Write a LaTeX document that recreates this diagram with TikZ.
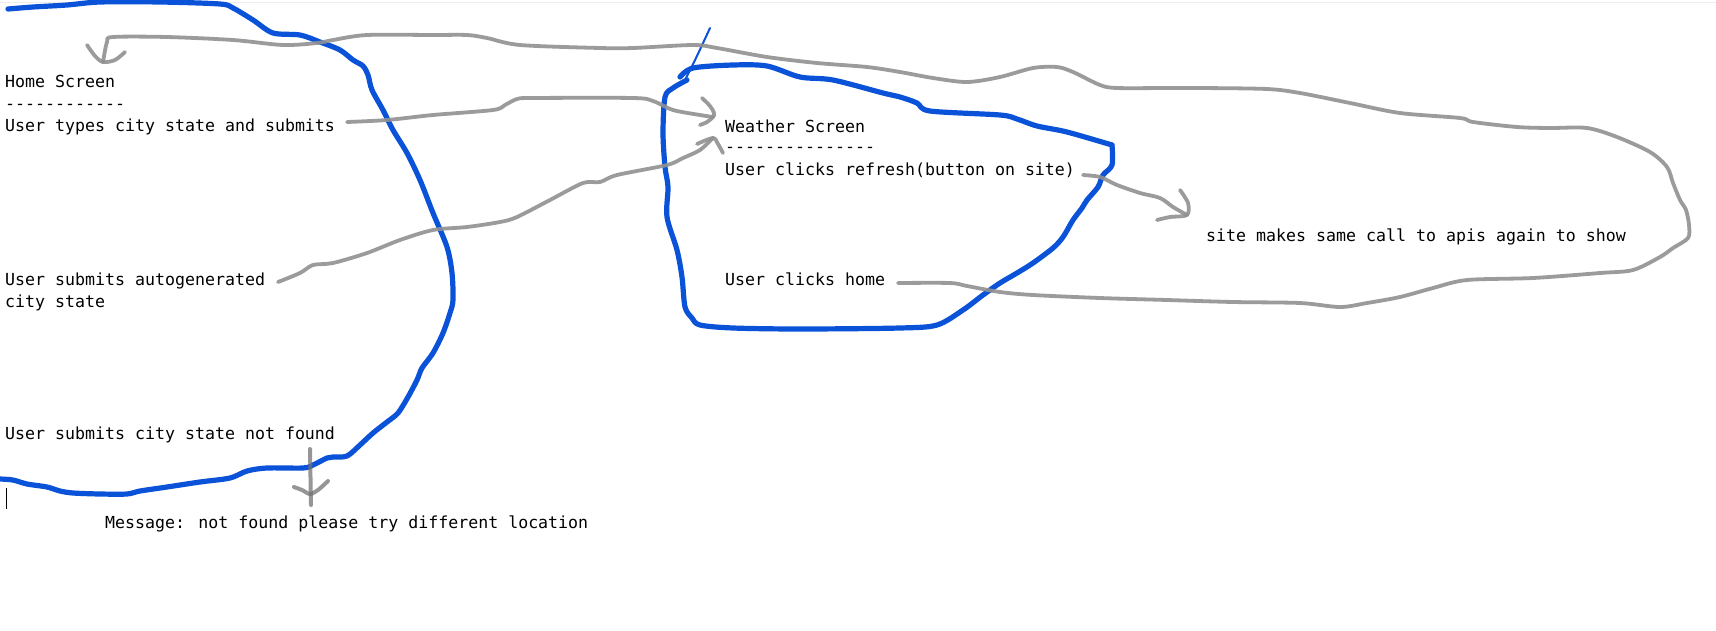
\documentclass[tikz,border=0pt]{standalone}
\usepackage{fontspec}
\newfontfamily\consfont{DejaVu Sans Mono}
\definecolor{inkblue}{RGB}{10,82,216}
\definecolor{pencil}{RGB}{145,145,145}
\definecolor{edgegray}{RGB}{236,236,236}
\begin{document}
\begin{tikzpicture}[x=1pt,y=-1pt,
  txt/.style={inner sep=0pt, anchor=base west, font=\consfont\fontsize{16.6}{22}\selectfont, text=black},
  blueink/.style={draw=inkblue, line width=5.2pt, line cap=round, line join=round},
  thinblue/.style={draw=inkblue, line width=2pt, line cap=round},
  pencilline/.style={draw=pencil, line width=3.8pt, line cap=round, line join=round, opacity=0.9},
  darkpencil/.style={draw=black!55, line width=4pt, line cap=round, line join=round, opacity=0.75}]
\useasboundingbox (0,0) rectangle (1716,630);
\fill[white] (0,0) rectangle (1716,630);
\draw[draw=edgegray, line width=1.5pt] (0,2.5) -- (1716,2.5);

% texts
\node[txt] (home) at (5,87) {Home Screen};
\node[txt] (homedash) at (5,109) {------------};
\node[txt] (types) at (5,131) {User types city state and submits};
\node[txt] (auto) at (5,285) {User submits autogenerated};
\node[txt] (auto2) at (5,307) {city state};
\node[txt] (notfound) at (5,439) {User submits city state not found};
\node[txt] (msg) at (105,528) {Message: not found please try different location};
\node[txt] (weather) at (725,132) {Weather Screen};
\node[txt] (weatherdash) at (725,152) {---------------};
\node[txt] (refresh) at (725,175) {User clicks refresh(button on site)};
\node[txt] (clickhome) at (725,285) {User clicks home};
\node[txt] (site) at (1206,241) {site makes same call to apis again to show};
\draw[black, line width=1pt] (6,488) -- (6,509);

% blue outlines
\draw[blueink] plot[smooth, tension=0.5] coordinates {(8,9) (33,7) (67,5) (100,2) (160,2) (220,4) (233,8) (253,20) (273,33) (300,35) (320,42) (340,50) (353,60) (363,66) (368,75) (372,90) (383,110) (393,130) (407,153) (420,180) (433,213) (447,247) (452,273) (453,300) (450,313) (443,333) (433,353) (422,368) (417,380) (408,397) (398,413) (387,422) (373,433) (360,445) (347,456) (333,457) (327,458) (313,465) (303,468) (267,468) (247,471) (230,478) (200,482) (167,487) (140,491) (127,494) (100,494) (73,493) (60,491) (47,487) (27,484) (13,480) (0,479)};
\draw[blueink] plot[smooth, tension=0.5] coordinates {(680,77) (693,68) (733,65) (767,66) (800,77) (833,80) (883,93) (900,97) (917,103) (930,111) (1000,115) (1017,119) (1037,126) (1067,132) (1112,145)};
\draw[blueink] plot[smooth, tension=0.5] coordinates {(1112,145) (1112,165) (1103,175) (1098,187) (1087,200) (1082,208) (1073,220) (1063,237) (1053,248) (1033,263) (1017,273) (1000,283) (983,295) (963,310) (937,325) (900,328) (800,329) (733,328) (700,325) (692,318) (685,307) (682,277) (677,250) (667,217) (668,187) (665,167) (663,133) (665,97) (673,88) (687,80)};
\draw[thinblue] plot[smooth, tension=0.5] coordinates {(710,28) (696,58) (684,82)};

% pencil connectors
\coordinate (homeIn) at (103,62);
\coordinate (homeOut) at (898,283);
\draw[pencilline] plot[smooth, tension=0.5] coordinates {(homeOut) (950,283) (967,286) (1000,292) (1033,295) (1100,298) (1167,300) (1233,302) (1300,303) (1340,307) (1367,303) (1400,297) (1433,288) (1467,280) (1533,278) (1600,273) (1633,270) (1660,257) (1673,248) (1688,238) (1689,225) (1686,210) (1680,200) (1673,183) (1667,167) (1650,152) (1617,137) (1587,128) (1550,128) (1517,127) (1473,122) (1460,118) (1400,113) (1350,103) (1300,93) (1267,89) (1200,88) (1167,88) (1117,88) (1100,85) (1073,72) (1057,67) (1033,68) (1000,77) (967,82) (933,78) (900,72) (867,67) (817,63) (767,57) (717,48) (693,45) (633,48) (600,48) (520,45) (487,38) (467,35) (433,35) (367,35) (333,40) (317,43) (283,45) (233,40) (167,37) (113,37) (107,42) (homeIn)};
\draw[pencilline] plot[smooth, tension=0.5] coordinates {(87,45) (95,56) (homeIn) (115,60) (125,52)};

\coordinate (typesOut) at (347,122);
\coordinate (weatherIn) at (713,117);
\draw[pencilline] plot[smooth, tension=0.5] coordinates {(typesOut) (387,120) (433,115) (493,110) (505,105) (517,99) (533,98) (633,98) (653,101) (673,110) (700,115) (weatherIn)};
\draw[pencilline] plot[smooth, tension=0.6] coordinates {(702,98) (710,106) (714,113) (weatherIn) (707,122) (700,125)};

\coordinate (autoOut) at (278,282);
\coordinate (weatherIn2) at (713,138);
\draw[pencilline] plot[smooth, tension=0.5] coordinates {(autoOut) (300,273) (313,265) (333,263) (367,253) (400,240) (433,230) (467,227) (500,222) (517,217) (550,200) (583,183) (600,182) (617,175) (667,165) (683,158) (700,150) (weatherIn2)};
\draw[pencilline] plot[smooth, tension=0.5] coordinates {(697,144) (weatherIn2) (718,144) (723,153)};

\coordinate (refreshOut) at (1083,175);
\coordinate (siteIn) at (1187,215);
\draw[pencilline] plot[smooth, tension=0.5] coordinates {(refreshOut) (1100,177) (1117,185) (1140,193) (1160,198) (1173,207) (siteIn)};
\draw[pencilline] plot[smooth, tension=0.5] coordinates {(1180,190) (1188,203) (siteIn) (1170,217) (1157,220)};

\coordinate (nfOut) at (310,449);
\coordinate (msgIn) at (311,505);
\draw[darkpencil] (nfOut) -- (msgIn);
\draw[darkpencil] plot[smooth, tension=0.5] coordinates {(294,487) (302,490) (310,494) (318,490) (328,481)};
\end{tikzpicture}
\end{document}
